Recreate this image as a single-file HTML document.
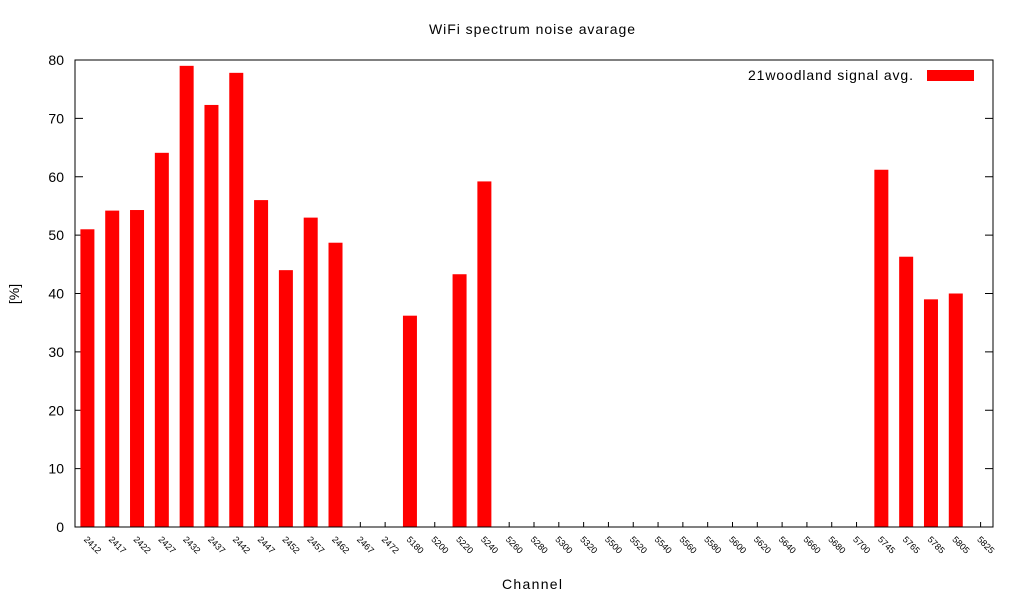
<!DOCTYPE html>
<html><head><meta charset="utf-8"><style>
body{margin:0;background:#fff}
svg{display:block;font-family:"Liberation Sans",sans-serif}
</style></head><body>
<svg id="c" width="1024" height="600">
<text x="532" y="34" text-anchor="middle" font-size="14" textLength="206" lengthAdjust="spacing">WiFi spectrum noise avarage</text>
<text x="532" y="589" text-anchor="middle" font-size="14" textLength="60" lengthAdjust="spacing">Channel</text>
<text x="19" y="294" text-anchor="middle" font-size="14" transform="rotate(-90 19 294)">[%]</text>
<g id="grid"></g>
<g id="bars"></g>
<rect x="75" y="60" width="918" height="467" fill="none" stroke="#000" stroke-width="1"/>
<text x="748" y="80" font-size="14" textLength="165" lengthAdjust="spacing">21woodland signal avg.</text>
<rect x="927" y="70" width="47" height="11" fill="#ff0000"/>
</svg>
<script>
const categories=["2412","2417","2422","2427","2432","2437","2442","2447","2452","2457","2462","2467","2472","5180","5200","5220","5240","5260","5280","5300","5320","5500","5520","5540","5560","5580","5600","5620","5640","5660","5680","5700","5745","5765","5785","5805","5825"];
const values=[51,54.2,54.3,64.1,79,72.3,77.8,56,44,53,48.7,0,0,36.2,0,43.3,59.2,0,0,0,0,0,0,0,0,0,0,0,0,0,0,0,61.2,46.3,39,40,0];
const yTicks=[0,10,20,30,40,50,60,70,80];
const L=75,R=993,T=60,B=527,yMax=80;
const ns="http://www.w3.org/2000/svg";
const step=(R-L)/categories.length;
const xs=i=>L+step*(i+0.5);
const ys=v=>B-(v/yMax)*(B-T);
const g=document.getElementById('grid'),bg=document.getElementById('bars');
function mk(t,a,p){const e=document.createElementNS(ns,t);for(const k in a)e.setAttribute(k,a[k]);p.appendChild(e);return e;}
yTicks.forEach(v=>{
  const y=ys(v);
  const l=mk('line',{x1:L,x2:L+8,y1:y,y2:y,stroke:'#000'},g);
  
  
  const r=mk('line',{x1:R-8,x2:R,y1:y,y2:y,stroke:'#000'},g);
  
  
  const t=mk('text',{x:L-11,y:y+5,'text-anchor':'end','font-size':14},g);
  t.textContent=v;
  
  
});
categories.forEach((c,i)=>{
  const x=xs(i);
  const tk=mk('line',{x1:x,x2:x,y1:B,y2:B-5,stroke:'#000'},g);
  
  
  const t=mk('text',{x:x-4,y:B+13,'font-size':9,transform:`rotate(45 ${x-4} ${B+13})`},g);
  t.textContent=c;
  
  
  if(values[i]>0){
    const b=mk('rect',{x:x-7,y:ys(values[i]),width:14,height:B-ys(values[i]),fill:'#ff0000'},bg);
    
    
  }
});
</script>
</body></html>
